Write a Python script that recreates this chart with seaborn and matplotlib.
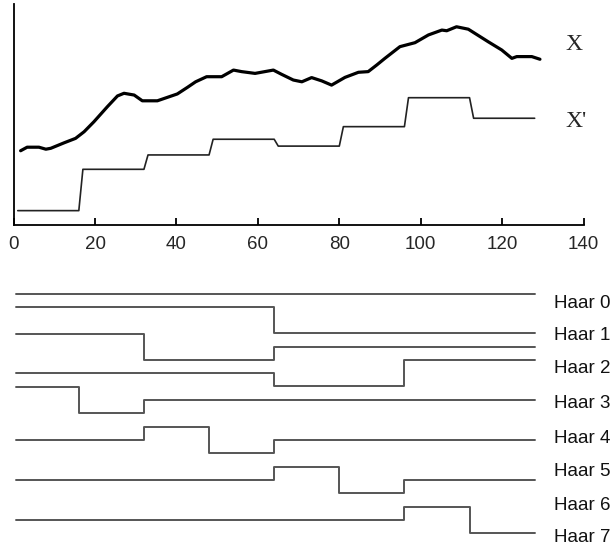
import numpy as np
import pandas as pd
import matplotlib
matplotlib.use("Agg")
import matplotlib.pyplot as plt
import seaborn as sns

# Signal X (traced sample positions and values)
x_pos = [1.7, 3.3, 6.2, 7.9, 9.1, 12.4, 15.2, 17.3, 19.7, 23.0, 25.5, 27.1,
         29.6, 31.6, 35.3, 40.2, 42.7, 44.7, 47.4, 51.1, 54.0, 56.0, 59.3,
         63.8, 65.8, 68.7, 70.8, 73.2, 75.7, 78.1, 81.4, 84.7, 87.1, 89.2,
         91.2, 94.9, 98.6, 101.9, 105.2, 106.4, 108.8, 111.7, 116.6, 119.9,
         122.4, 123.6, 127.3, 129.3]
x_val = [33.6, 35.2, 35.2, 34.3, 34.7, 37.2, 39.2, 42.2, 46.7, 53.5, 58.4,
         59.6, 58.8, 56.2, 56.2, 59.3, 62.3, 64.8, 67.1, 67.1, 70.1, 69.4,
         68.6, 70.1, 68.2, 65.6, 64.8, 66.7, 65.2, 63.3, 66.8, 69.1, 69.4,
         72.4, 75.4, 80.7, 82.5, 86.0, 88.2, 87.9, 89.7, 88.6, 82.9, 79.2,
         75.4, 76.2, 76.2, 75.0]

# Approximation X' : one level per block of 16 samples (drawn offset below X)
approx_levels = [6.5, 25.2, 31.7, 38.8, 35.7, 44.5, 57.6, 48.3]
block_size = 16

# Haar basis functions, one value per block
haar_names = ["Haar 0", "Haar 1", "Haar 2", "Haar 3",
              "Haar 4", "Haar 5", "Haar 6", "Haar 7"]
haar_values = [
    [1, 1, 1, 1, 1, 1, 1, 1],
    [1, 1, 1, 1, -1, -1, -1, -1],
    [1, 1, -1, -1, 0, 0, 0, 0],
    [0, 0, 0, 0, -1, -1, 1, 1],
    [1, -1, 0, 0, 0, 0, 0, 0],
    [0, 0, 1, -1, 0, 0, 0, 0],
    [0, 0, 0, 0, 1, -1, 0, 0],
    [0, 0, 0, 0, 0, 0, 1, -1],
]
block_edges = [0.5, 16, 32, 48, 64, 80, 96, 112, 128]

x_ticks = [0, 20, 40, 60, 80, 100, 120, 140]

# ---- layout (pixels on a 614x550 canvas) ----
W, H = 614, 550
sns.set_style("white")
plt.rcParams["font.family"] = ["Liberation Sans", "DejaVu Sans"]

fig = plt.figure(figsize=(W / 100, H / 100), dpi=100)
x0_px, x140_px = 13.7, 583.5
top_px, axis_px = 4, 225
ax = fig.add_axes([x0_px / W, 1 - axis_px / H,
                   (x140_px - x0_px) / W, (axis_px - top_px) / H])

# top panel: X and X'
sig = pd.DataFrame({"t": x_pos, "v": x_val})
sns.lineplot(data=sig, x="t", y="v", ax=ax, color="black", linewidth=2.3,
             sort=False)
t_approx = np.arange(1, block_size * len(approx_levels) + 1)
apx = pd.DataFrame({"t": t_approx,
                    "v": np.repeat(approx_levels, block_size)})
sns.lineplot(data=apx, x="t", y="v", ax=ax, color="#222222", linewidth=1.2,
             sort=False)

ax.set_xlim(0, 140)
ax.set_ylim(0, 100)
ax.set_xticks(x_ticks)
ax.set_xticklabels([str(t) for t in x_ticks])
ax.set_yticks([])
ax.set_xlabel("")
ax.set_ylabel("")
for s in ("top", "right"):
    ax.spines[s].set_visible(False)
for s in ("left", "bottom"):
    ax.spines[s].set_color("black")
    ax.spines[s].set_linewidth(1.3)
ax.tick_params(axis="x", direction="in", length=5, width=1.3, color="black",
               labelsize=13.5, pad=8, bottom=True)

fig.text(565 / W, 1 - 44.5 / H, "X", family="Liberation Serif", fontsize=17,
         ha="left", va="center")
fig.text(565 / W, 1 - 121.5 / H, "X'", family="Liberation Serif", fontsize=17,
         ha="left", va="center")

# bottom panel: Haar basis, one row each
bx_top, bx_bot = 270, 550
bx = fig.add_axes([x0_px / W, 1 - bx_bot / H,
                   (x140_px - x0_px) / W, (bx_bot - bx_top) / H])
bx.set_xlim(0, 140)
bx.set_ylim(bx_bot - bx_top, 0)
bx.axis("off")

row_base = [37, 50, 77, 103, 130, 170, 210, 250]
amp = 13.3
label_y_px = [301.5, 333.5, 366.5, 401, 436.5, 470, 503.3, 535]

for name, vals, base, ly in zip(haar_names, haar_values, row_base, label_y_px):
    df = pd.DataFrame({"t": block_edges,
                       "v": [base - amp * v for v in vals + [vals[-1]]]})
    sns.lineplot(data=df, x="t", y="v", ax=bx, color="#555555",
                 linewidth=1.4, drawstyle="steps-post", sort=False)
    fig.text(554 / W, 1 - ly / H, name, fontsize=13.5, ha="left",
             va="center_baseline", color="#111111")
bx.set_xlabel("")
bx.set_ylabel("")
bx.set_xlim(0, 140)
bx.set_ylim(bx_bot - bx_top, 0)

fig.savefig("out.png", dpi=100)
